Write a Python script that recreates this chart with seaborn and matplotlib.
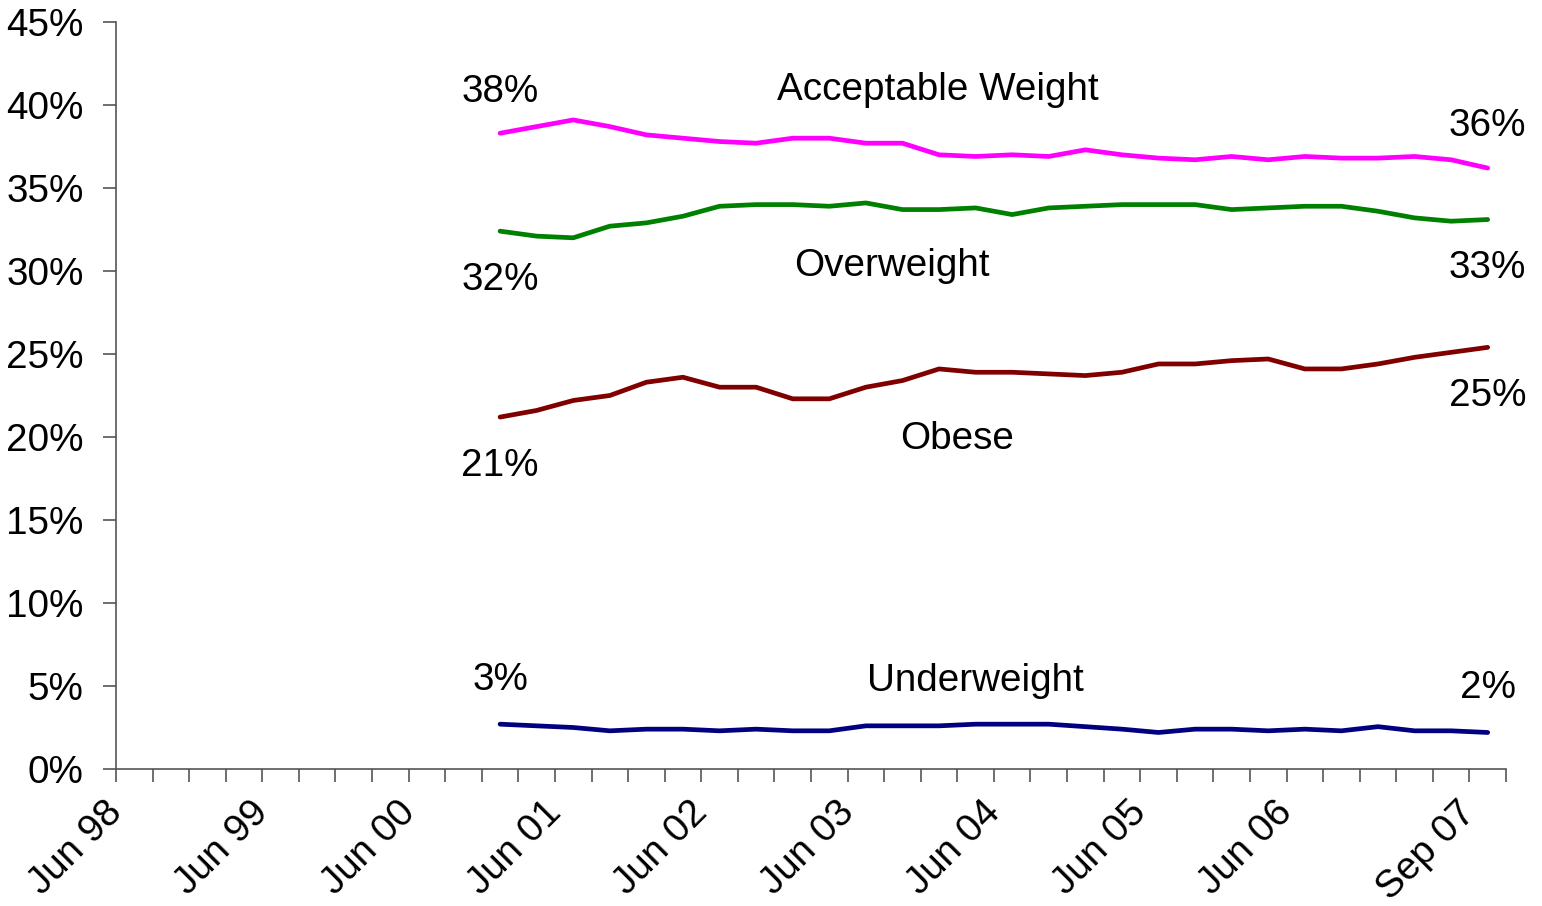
import numpy as np
import pandas as pd
import matplotlib
matplotlib.use("Agg")
import matplotlib.pyplot as plt
import matplotlib.transforms as mtransforms
import seaborn as sns

# quarters on the category axis, Jun 98 .. Sep 07
months = ["Mar", "Jun", "Sep", "Dec"]
quarters = []
for yr in range(98, 108):
    for m in months:
        quarters.append(f"{m} {yr % 100:02d}")
quarters = quarters[1:quarters.index("Sep 07") + 1]

# survey data starts Dec 00
first_q = quarters.index("Dec 00")

acceptable = [38.3, 38.7, 39.1, 38.7, 38.2, 38.0, 37.8, 37.7, 38.0, 38.0, 37.7, 37.7, 37.0, 36.9,
              37.0, 36.9, 37.3, 37.0, 36.8, 36.7, 36.9, 36.7, 36.9, 36.8, 36.8, 36.9, 36.7, 36.2]
overweight = [32.4, 32.1, 32.0, 32.7, 32.9, 33.3, 33.9, 34.0, 34.0, 33.9, 34.1, 33.7, 33.7, 33.8,
              33.4, 33.8, 33.9, 34.0, 34.0, 34.0, 33.7, 33.8, 33.9, 33.9, 33.6, 33.2, 33.0, 33.1]
obese = [21.2, 21.6, 22.2, 22.5, 23.3, 23.6, 23.0, 23.0, 22.3, 22.3, 23.0, 23.4, 24.1, 23.9,
         23.9, 23.8, 23.7, 23.9, 24.4, 24.4, 24.6, 24.7, 24.1, 24.1, 24.4, 24.8, 25.1, 25.4]
underweight = [2.7, 2.6, 2.5, 2.3, 2.4, 2.4, 2.3, 2.4, 2.3, 2.3, 2.6, 2.6, 2.6, 2.7,
               2.7, 2.7, 2.55, 2.4, 2.2, 2.4, 2.4, 2.3, 2.4, 2.3, 2.55, 2.3, 2.3, 2.2]

series_names = ["Acceptable Weight", "Overweight", "Obese", "Underweight"]
series_vals = [acceptable, overweight, obese, underweight]
colors = ["#FF00FF", "#008000", "#800000", "#000080"]

# labelled ticks on the x axis
tick_labels = ["Jun 98", "Jun 99", "Jun 00", "Jun 01", "Jun 02", "Jun 03",
               "Jun 04", "Jun 05", "Jun 06", "Sep 07"]

# where the series names sit (x in quarter units, y in %)
name_pos = [(21.97, 40.9), (20.7, 30.3), (22.5, 19.85), (23.0, 5.3)]
# offsets (points) for the start / end value labels: above or below the line
val_off = [30, -35, -35, 32]

rows = []
for name, vals in zip(series_names, series_vals):
    for i, v in enumerate(vals):
        rows.append({"q": first_q + i, "quarter": quarters[first_q + i], "series": name, "pct": v})
df = pd.DataFrame(rows)

sns.set_style("ticks")
plt.rcParams["font.family"] = ["Liberation Sans", "DejaVu Sans"]
plt.rcParams["text.color"] = "black"
plt.rcParams["xtick.color"] = "black"
plt.rcParams["ytick.color"] = "black"
FS = 27.8

fig = plt.figure(figsize=(15.42, 9.06), dpi=100)
ax = fig.add_axes([116 / 1542, 1 - 769 / 906, (1506 - 116) / 1542, (769 - 22) / 906])

sns.lineplot(data=df, x="q", y="pct", hue="series", hue_order=series_names,
             palette=colors, linewidth=3.4, legend=False, ax=ax)

for name, vals, c, (nx, ny), off in zip(series_names, series_vals, colors, name_pos, val_off):
    for idx in [0, len(vals) - 1]:
        ax.annotate(f"{round(vals[idx])}%", (first_q + idx, vals[idx]),
                    xytext=(0, off), textcoords="offset points",
                    ha="center", va="center", fontsize=FS, color="black")
    ax.text(nx, ny, name, ha="center", va="center", fontsize=FS, color="black")

ax.set_xlim(-0.5, len(quarters) - 0.5)
ax.set_ylim(0, 45)
ax.set_yticks(np.arange(0, 46, 5))
ax.set_yticklabels([f"{v}%" for v in range(0, 46, 5)], fontsize=FS)

bounds = np.arange(-0.5, len(quarters), 1)
ax.set_xticks(bounds)
lab = [""] * len(bounds)
for t in tick_labels:
    lab[quarters.index(t)] = t
ax.set_xticklabels(lab, fontsize=FS, rotation=45, ha="right", rotation_mode="anchor")

ax.tick_params(axis="both", direction="out", length=9.4, width=1.2, color="#555555")
ax.tick_params(axis="x", pad=12)
ax.tick_params(axis="y", pad=14)
shift = mtransforms.ScaledTranslation(-12 / 100, 4 / 100, fig.dpi_scale_trans)
for t in ax.get_xticklabels():
    t.set_transform(t.get_transform() + shift)
for s in ["top", "right"]:
    ax.spines[s].set_visible(False)
for s in ["left", "bottom"]:
    ax.spines[s].set_color("#555555")
    ax.spines[s].set_linewidth(1.2)
ax.set_xlabel("")
ax.set_ylabel("")

fig.savefig("out.png", dpi=100)
